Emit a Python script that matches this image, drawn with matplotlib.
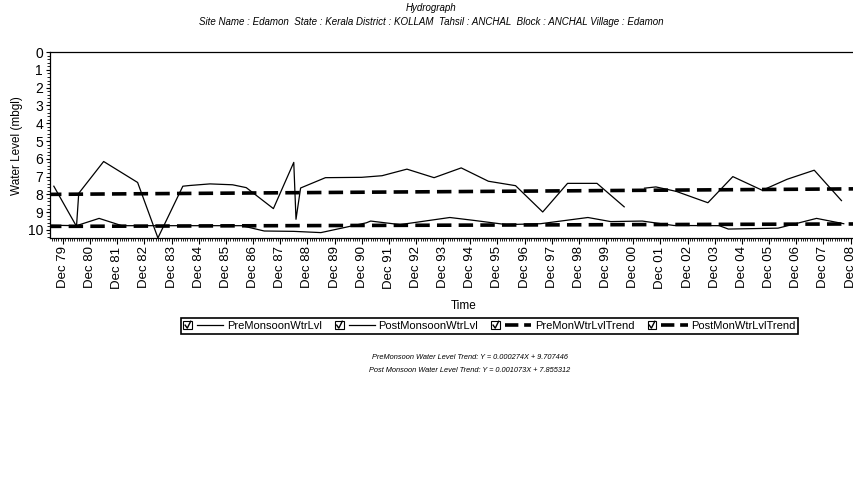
import matplotlib
matplotlib.use("Agg")
import matplotlib.pyplot as plt
import matplotlib.dates as mdates
from matplotlib.ticker import AutoMinorLocator
from matplotlib.legend_handler import HandlerBase
from matplotlib.patches import Rectangle
from matplotlib.lines import Line2D
import numpy as np
import pandas as pd

plt.rcParams['font.family'] = ['Liberation Sans', 'DejaVu Sans']

# Post-monsoon water level (upper jagged series), mbgl; None = gap in record
post_dates = ["1979-08", "1980-06", "1980-07", "1981-06", "1982-09", "1983-06",
              "1984-05", "1984-08", "1985-05", "1986-03", "1986-09", "1987-09",
              "1988-06", "1988-07", "1988-09", "1989-08", "1990-12", "1991-09",
              "1992-08", "1993-08", "1994-08", "1995-08", "1996-08", "1997-08",
              "1998-07", "1999-08", "2000-08", "2001-01", "2001-05", "2001-10",
              "2002-07", "2003-09", "2004-08", "2005-09", "2006-08", "2007-08",
              "2008-08"]
post_level = [7.54, 9.80, 7.94, 6.15, 7.33, 10.45,
              7.54, 7.50, 7.41, 7.46, 7.62, 8.80,
              6.20, 9.40, 7.64, 7.06, 7.04, 6.95,
              6.58, 7.06, 6.51, 7.26, 7.51, 8.99,
              7.38, 7.38, 8.70, None, 7.65, 7.58,
              7.83, 8.47, 7.00, 7.77, 7.15, 6.64,
              8.35]

# Pre-monsoon water level (lower series), mbgl
pre_dates = ["1979-05", "1980-06", "1981-04", "1982-02", "1986-07", "1987-05",
             "1988-06", "1989-06", "1991-02", "1991-04", "1992-05", "1994-03",
             "1995-02", "1996-04", "1997-07", "1999-04", "2000-02", "2001-04",
             "2002-06", "2004-02", "2004-06", "2006-04", "2007-09", "2008-09"]
pre_level = [9.73, 9.76, 9.35, 9.76, 9.76, 10.06,
             10.08, 10.15, 9.60, 9.50, 9.70, 9.30,
             9.47, 9.70, 9.65, 9.30, 9.53, 9.50,
             9.75, 9.76, 9.95, 9.90, 9.35, 9.65]

# Trend lines (end points)
trend_dates = ["1979-05", "2009-12"]
pre_trend = [9.80, 9.66]
post_trend = [8.00, 7.68]

tick_years = list(range(1979, 2009))

legend_labels = ["PreMonsoonWtrLvl", "PostMonsoonWtrLvl",
                 "PreMonWtrLvlTrend", "PostMonWtrLvlTrend"]
title = "Hydrograph"
subtitle = ("Site Name : Edamon  State : Kerala District : KOLLAM  Tahsil : ANCHAL  "
            "Block : ANCHAL Village : Edamon")
formula_pre = "PreMonsoon Water Level Trend: Y = 0.000274X + 9.707446"
formula_post = "Post Monsoon Water Level Trend: Y = 0.001073X + 7.855312"


class CheckHandler(HandlerBase):
    # draws a ticked checkbox in front of the line sample
    def create_artists(self, legend, orig_handle, xdescent, ydescent,
                       width, height, fontsize, trans):
        x0, y0 = -xdescent, -ydescent
        s = height * 1.1
        yb = y0 + (height - s) / 2
        box = Rectangle((x0, yb), s, s, fc='white', ec='black',
                        lw=0.8, transform=trans)
        tick = Line2D([x0 + 0.2 * s, x0 + 0.45 * s, x0 + 0.85 * s],
                      [yb + 0.5 * s, yb + 0.15 * s, yb + 0.95 * s],
                      color='black', lw=1.0, transform=trans)
        line = Line2D([x0 + s * 1.6, x0 + width], [y0 + height / 2] * 2,
                      color=orig_handle.get_color(),
                      linestyle=orig_handle.get_linestyle(),
                      lw=orig_handle.get_linewidth(), transform=trans)
        return [box, tick, line]


fig = plt.figure(figsize=(8.54, 4.83), dpi=100)
ax = fig.add_axes([0.0585, 0.507, 0.97, 0.385])

pd_post = pd.to_datetime(post_dates)
pd_pre = pd.to_datetime(pre_dates)
pd_trend = pd.to_datetime(trend_dates)
post_y = np.array([np.nan if v is None else v for v in post_level])

l1, = ax.plot(pd_pre, pre_level, color='black', lw=0.9)
l2, = ax.plot(pd_post, post_y, color='black', lw=0.9)
l3, = ax.plot(pd_trend, pre_trend, color='black', lw=2.6, linestyle=(0, (4, 2)))
l4, = ax.plot(pd_trend, post_trend, color='black', lw=2.6, linestyle=(0, (4, 2)))

ax.set_xlim(pd.Timestamp("1979-06-10"), pd.Timestamp("2009-12-10"))
ax.set_ylim(10.46, 0)
ax.set_yticks(range(0, 11))
ax.yaxis.set_minor_locator(AutoMinorLocator(5))
ax.set_xticks(pd.to_datetime([f"{y}-12-01" for y in tick_years]))
ax.xaxis.set_major_formatter(mdates.DateFormatter("Dec %y"))
ax.xaxis.set_minor_locator(mdates.MonthLocator())
ax.tick_params(axis='x', which='major', labelrotation=90, labelsize=9.5, length=4, pad=2)
ax.tick_params(axis='y', which='major', labelsize=10, length=3, pad=2)
ax.tick_params(which='minor', length=2)
for sp in ax.spines.values():
    sp.set_linewidth(0.9)

ax.set_ylabel("Water Level (mbgl)", fontsize=8.5, labelpad=3)
ax.set_xlabel("Time", fontsize=8.5, labelpad=8)

fig.text(0.505, 0.983, title, ha='center', va='center', fontsize=7, style='italic')
fig.text(0.505, 0.955, subtitle, ha='center', va='center', fontsize=7, style='italic')

leg = fig.legend([l1, l2, l3, l4], legend_labels, loc='center',
                 bbox_to_anchor=(0.573, 0.325), ncol=4, fontsize=8,
                 handler_map={Line2D: CheckHandler()}, handlelength=3.6,
                 handletextpad=0.3, columnspacing=1.2, fancybox=False,
                 borderpad=0.25, framealpha=1)
leg.get_frame().set_edgecolor('black')
leg.get_frame().set_linewidth(1.2)

fig.text(0.55, 0.26, formula_pre, ha='center', va='center', fontsize=5.3, style='italic')
fig.text(0.55, 0.233, formula_post, ha='center', va='center', fontsize=5.3, style='italic')

fig.savefig("out.png", dpi=100)
